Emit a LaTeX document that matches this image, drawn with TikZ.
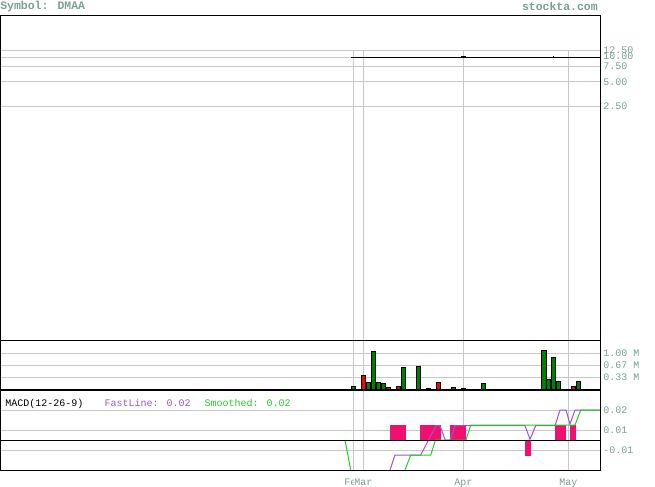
\documentclass[tikz,border=0pt]{standalone}
\usepackage{fontspec}
\newfontfamily\chartfont{Liberation Mono}
\definecolor{lblcol}{RGB}{122,160,145}
\definecolor{gridcol}{RGB}{200,200,200}
\definecolor{volgreen}{RGB}{0,128,0}
\definecolor{volred}{RGB}{255,0,0}
\definecolor{histpink}{RGB}{240,16,112}
\definecolor{fastcol}{RGB}{153,85,204}
\definecolor{slowcol}{RGB}{34,204,34}
\begin{document}
\begin{tikzpicture}[x=0.75pt,y=-0.75pt,
  gridline/.style={draw=gridcol,line width=0.75pt},
  panelline/.style={draw=black,line width=0.75pt},
  headtxt/.style={font=\chartfont\bfseries\fontsize{8.6}{9}\selectfont,text=lblcol,inner sep=0pt},
  axlbl/.style={font=\chartfont\fontsize{7.5}{8}\selectfont,text=lblcol,inner sep=0pt,anchor=west},
  datelbl/.style={font=\chartfont\fontsize{7.5}{8}\selectfont,text=lblcol,fill=white,inner sep=0pt,anchor=base},
  legtxt/.style={font=\chartfont\fontsize{7.5}{8}\selectfont,inner sep=0pt,anchor=base west},
  upbar/.style={draw=black,fill=volgreen,line width=0.75pt},
  dnbar/.style={draw=black,fill=volred,line width=0.75pt},
  histbar/.style={fill=histpink},
  fastline/.style={draw=fastcol,line width=0.75pt},
  slowline/.style={draw=slowcol,line width=0.75pt}]
\useasboundingbox (0,0) rectangle (655,486);

\node[headtxt,anchor=base west] (sym) at (0,9.7) {Symbol: DMAA};
\node[headtxt,anchor=base east] (site) at (598,10) {stockta.com};

\path[gridline] (0,50) -- (600,50);
\path[gridline] (0,57.3) -- (600,57.3);
\path[gridline] (0,66.7) -- (600,66.7);
\path[gridline] (0,81.7) -- (600,81.7);
\path[gridline] (0,106) -- (600,106);
\path[gridline] (0,353) -- (600,353);
\path[gridline] (0,365.3) -- (600,365.3);
\path[gridline] (0,377.6) -- (600,377.6);
\path[gridline] (0,410) -- (600,410);
\path[gridline] (0,430) -- (600,430);
\path[gridline] (0,450) -- (600,450);
\path[gridline] (353.3,50) -- (353.3,470);
\path[gridline] (363.3,50) -- (363.3,470);
\path[gridline] (463.3,50) -- (463.3,470);
\path[gridline] (568.3,50) -- (568.3,470);

\path[draw=black,line width=0.75pt] (351,57.3) -- (600,57.3);
\path[fill=black] (461,55.8) rectangle (466,57.3);
\path[fill=black] (552.5,55.6) rectangle (553.5,57.3);

\path[upbar] (351,386.3) rectangle (355.7,390);
\path[dnbar] (361,375) rectangle (365.7,390);
\path[upbar] (366,382.3) rectangle (370.7,390);
\path[upbar] (371,351.3) rectangle (375.7,390);
\path[upbar] (376,382.3) rectangle (380.7,390);
\path[upbar] (381,383.3) rectangle (385.7,390);
\path[dnbar] (386,387.3) rectangle (390.7,390);
\path[dnbar] (396,386.3) rectangle (400.7,390);
\path[upbar] (401,367) rectangle (405.7,390);
\path[upbar] (416,366) rectangle (420.7,390);
\path[upbar] (426,388.3) rectangle (430.7,390);
\path[dnbar] (436,382.3) rectangle (440.7,390);
\path[upbar] (451,387.3) rectangle (455.7,390);
\path[upbar] (461,388.3) rectangle (465.7,390);
\path[upbar] (481,383) rectangle (485.7,390);
\path[upbar] (541.3,350.3) rectangle (546,390);
\path[upbar] (546.3,379.3) rectangle (550.7,390);
\path[upbar] (551.3,357) rectangle (555.7,390);
\path[upbar] (556.3,381) rectangle (560.7,390);
\path[dnbar] (571.3,386.3) rectangle (575.7,390);
\path[upbar] (576,381.3) rectangle (580.7,390);

\path[histbar] (390,425) rectangle (406,440);
\path[histbar] (420,425) rectangle (441,440);
\path[histbar] (450,425) rectangle (465.7,440);
\path[histbar] (525,440) rectangle (530.7,456);
\path[histbar] (555.3,425) rectangle (566,440);
\path[histbar] (570,425) rectangle (575.7,440);

\path[fastline] (390,470) -- (395,455) -- (420.7,455) -- (436,425.7) -- (440,425.7) -- (445.3,440)
  -- (450,440) -- (455,425.7) -- (525,425.7) -- (530,439.3) -- (535.7,425.7) -- (555,425.7)
  -- (560,410) -- (566,410) -- (570,424) -- (575,410) -- (600,410);
\path[slowline] (345,440) -- (350.7,470);
\path[slowline] (405,470) -- (410.7,455) -- (430.7,455) -- (435.5,440) -- (466,440) -- (470.7,425)
  -- (575,425) -- (580.7,410) -- (600,410);

\path[panelline] (0,15) -- (600,15) -- (600,470) -- (0,470) -- cycle;
\path[panelline] (0,340) -- (600,340);
\path[draw=black,line width=1.2pt] (0,390) -- (600,390);
\path[panelline] (0,440) -- (600,440);

\node[axlbl] (p1250) at (603,50) {12.50};
\node[axlbl] (p1000) at (603,56.7) {10.00};
\node[axlbl] (p750) at (603,66.7) {7.50};
\node[axlbl] (p500) at (603,81.7) {5.00};
\node[axlbl] (p250) at (603,106) {2.50};
\node[axlbl] (v100) at (603,353) {1.00 M};
\node[axlbl] (v067) at (603,365.3) {0.67 M};
\node[axlbl] (v033) at (603,377.6) {0.33 M};
\node[axlbl] (m002) at (603,410) {0.02};
\node[axlbl] (m001) at (603,430) {0.01};
\node[axlbl] (mneg001) at (603,450) {-0.01};

\node[legtxt] (macd) at (5,406) {MACD(12-26-9)};
\node[legtxt,text=fastcol] (fast) at (104.3,406) {FastLine: 0.02};
\node[legtxt,text=slowcol] (smooth) at (204.3,406) {Smoothed: 0.02};

\node[datelbl] (feb) at (353.3,485) {Feb};
\node[datelbl] (mar) at (363.3,485) {Mar};
\node[datelbl] (apr) at (463.3,485) {Apr};
\node[datelbl] (may) at (568.3,485) {May};
\end{tikzpicture}
\end{document}
